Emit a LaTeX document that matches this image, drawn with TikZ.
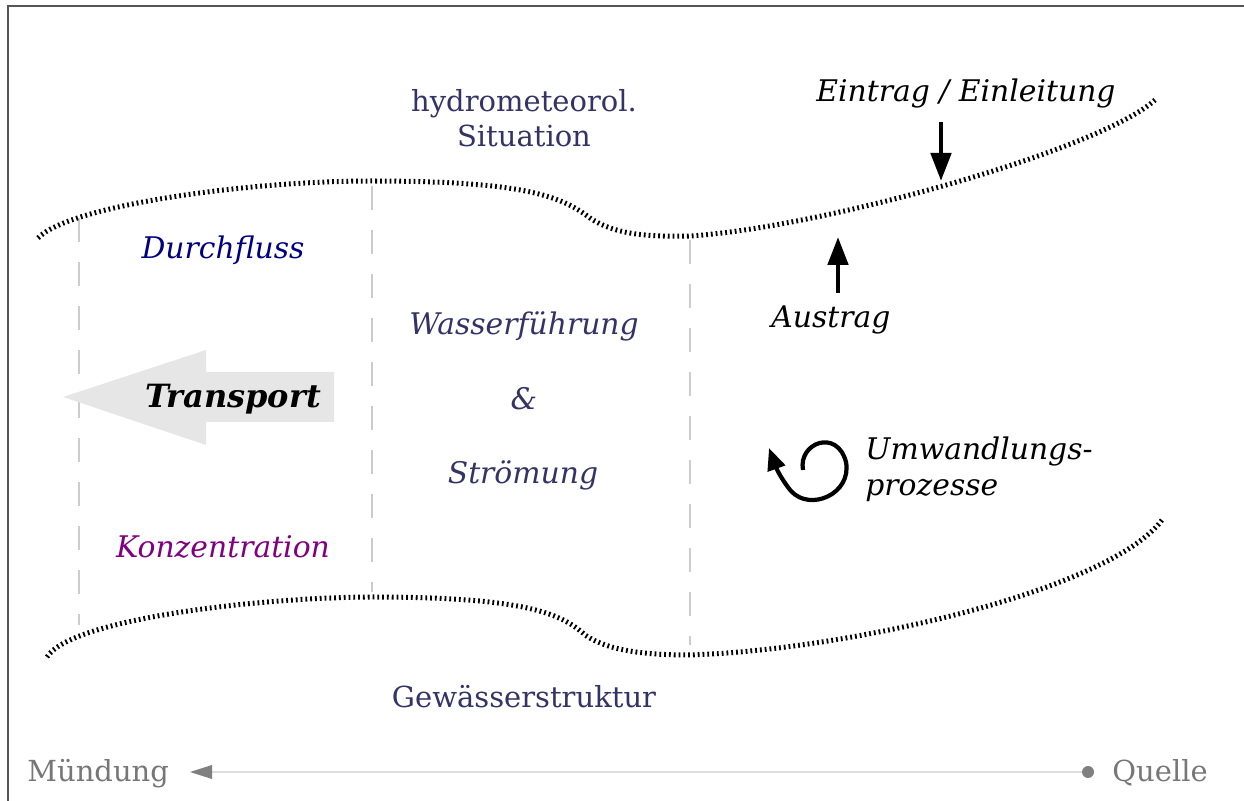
\documentclass[tikz,border=0pt]{standalone}
\usepackage{fontspec}
\setmainfont{DejaVu Serif}
\usetikzlibrary{arrows.meta}
\definecolor{slate}{HTML}{333366}
\definecolor{navyc}{HTML}{000080}
\definecolor{purp}{HTML}{800080}
\definecolor{axgray}{HTML}{777777}
\definecolor{axline}{HTML}{DDDDDD}
\definecolor{framec}{HTML}{555555}
\definecolor{transfill}{HTML}{E6E6E6}
\begin{document}
\begin{tikzpicture}[x=0.5pt,y=-0.5pt,
  bank/.style={line width=2.5pt, dash pattern=on 0.9pt off 1.5pt},
  divider/.style={draw=black!20, line width=0.6pt, dash pattern=on 12pt off 10pt},
  lbl/.style={inner sep=0pt, anchor=base, font=\fontsize{14.5}{17}\selectfont},
  it/.style={lbl, font=\fontsize{14.9}{17}\selectfont\itshape},
  flowarrow/.style={line width=2.4pt, -{Triangle[length=14pt,width=10pt]}},
]
\useasboundingbox (0,0) rectangle (1244,801);
% frame (top and left edge)
\draw[framec, line width=0.8pt] (8,801) -- (8,6) -- (1244,6);

% dividers
\draw[divider] (79,218) -- (79,625);
\draw[divider] (372,186) -- (372,592);
\draw[divider] (690,240) -- (690,645);

% upper bank
\draw[bank] (38,238) .. controls (70,205) and (250,181) .. (370,181)
  .. controls (520,181) and (560,195) .. (590,218)
  .. controls (615,235) and (650,237) .. (690,236)
  .. controls (820,228) and (1100,150) .. (1155,100);
% lower bank
\draw[bank] (47,657) .. controls (70,620) and (250,598) .. (370,597)
  .. controls (520,597) and (560,612) .. (585,635)
  .. controls (610,652) and (650,655) .. (690,655)
  .. controls (850,650) and (1110,590) .. (1162,520);

% texts
\node[lbl, slate] (hydro) at (524,112) {hydrometeorol.};
\node[lbl, slate] (situ) at (524,147) {Situation};
\node[it] (eintrag) at (966,102) {Eintrag / Einleitung};
\node[it, navyc] (durch) at (223,259) {Durchfluss};
\node[it, slate] (wasser) at (524,335) {Wasserführung};
\node[it, slate] (amp) at (524,410) {\&};
\node[it, slate] (stroem) at (523,484) {Strömung};
\node[it] (austrag) at (831,328) {Austrag};
\node[it, purp] (konz) at (223,558) {Konzentration};
\node[it, anchor=base west] (umw) at (865,460) {Umwandlungs-};
\node[it, anchor=base west] (proz) at (865,496) {prozesse};
\node[lbl, slate] (gew) at (524,708) {Gewässerstruktur};

% transport arrow
\fill[transfill] (63,397) -- (206,350) -- (206,372) -- (334,372) -- (334,422)
  -- (206,422) -- (206,445) -- cycle;
\node[it, font=\fontsize{16}{18}\selectfont\bfseries\itshape] (trans) at (233,408) {Transport};

% in/out arrows
\coordinate (einS) at (941,122);
\coordinate (einE) at (941,181);
\draw[flowarrow] (einS) -- (einE);
\coordinate (ausS) at (838,293);
\coordinate (ausE) at (838,237);
\draw[flowarrow] (ausS) -- (ausE);

% transformation loop
\coordinate (loopS) at (803,470);
\coordinate (loopE) at (769,448);
\draw[line width=2.1pt, -{Triangle[length=11pt,width=9pt]}] (loopS)
  .. controls (798,443) and (837,428) .. (846,462)
  .. controls (852,494) and (810,512) .. (791,491)
  .. controls (784,483) and (777,470) .. (loopE);

% axis
\node[lbl, axgray, anchor=base west] (muend) at (27,782) {Mündung};
\node[lbl, axgray, anchor=base west] (quelle) at (1112,782) {Quelle};
\node[circle, fill=gray, inner sep=0pt, minimum size=6pt] (dot) at (1088,772) {};
\coordinate (axend) at (190,772);
\draw[axline, line width=1pt] (dot) -- (205,772);
\fill[gray] (axend) -- (212,765) -- (212,779) -- cycle;
\end{tikzpicture}
\end{document}
